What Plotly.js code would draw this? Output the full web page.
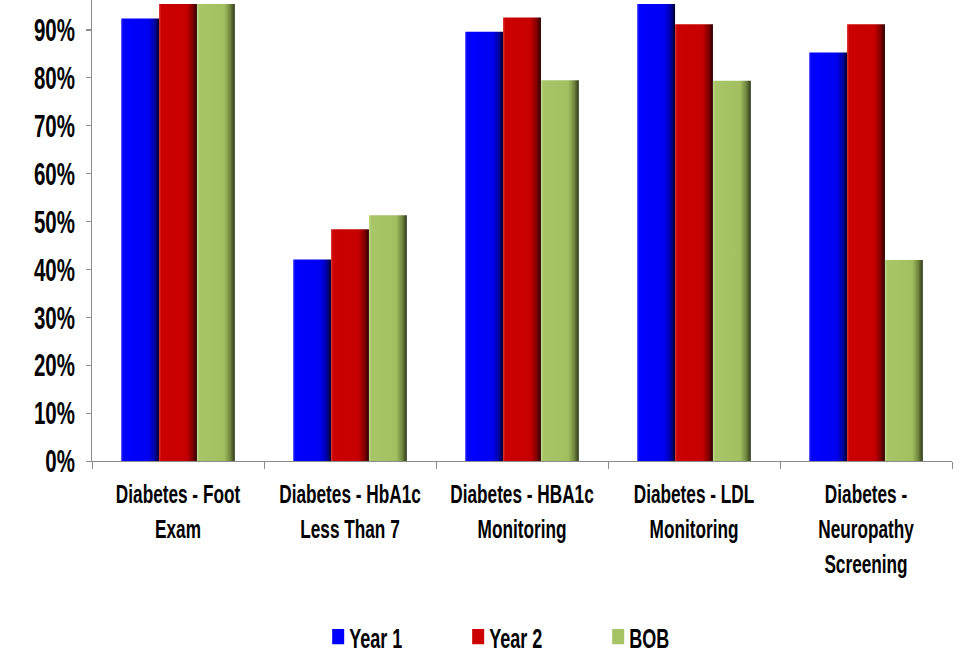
<!DOCTYPE html>
<html>
<head>
<meta charset="utf-8">
<script src="https://cdn.plot.ly/plotly-3.0.1.min.js"></script>
<style>
  html, body { margin: 0; padding: 0; background: #ffffff; overflow: hidden; }
  #wrap { width: 961px; height: 653px; overflow: hidden; }
  /* the chart is laid out at a shorter height and stretched vertically */
  #chart { width: 961px; height: 514px; transform: scaleY(1.2704); transform-origin: 0 0; }
</style>
</head>
<body>
<div id="wrap"><div id="chart"></div></div>
<script>
// Diabetes quality measures, share of patients meeting each measure (%)
const categories = [
  "Diabetes - Foot<br>Exam",
  "Diabetes - HbA1c<br>Less Than 7",
  "Diabetes - HBA1c<br>Monitoring",
  "Diabetes - LDL<br>Monitoring",
  "Diabetes -<br>Neuropathy<br>Screening"
];
const year1 = [92.4, 42.1, 89.6, 95.4, 85.3];
const year2 = [95.4, 48.4, 92.6, 91.2, 91.2];
const bob   = [95.4, 51.3, 79.5, 79.4, 42.0];

const yTickValues = [0, 10, 20, 30, 40, 50, 60, 70, 80, 90];
const yTickLabels = yTickValues.map(v => v + "%");

const seriesNames  = ["Year 1", "Year 2", "BOB"];
const seriesValues = [year1, year2, bob];
const seriesColors = ["#0000ff", "#cc0000", "#a6c465"];

const font = '"Liberation Sans", Arial, sans-serif';
// narrow the bold face horizontally so it reads like a condensed type
const NARROW = 0.82;

const traces = seriesValues.map((vals, i) => ({
  type: "bar",
  name: seriesNames[i],
  x: categories,
  y: vals,
  marker: { color: seriesColors[i], line: { width: 0 } },
  hoverinfo: "skip"
}));

const layout = {
  width: 961,
  height: 514,
  margin: { l: 92, r: 9, t: 0, b: 151 },
  paper_bgcolor: "#ffffff",
  plot_bgcolor: "#ffffff",
  barmode: "group",
  bargap: 0.339,
  bargroupgap: 0,
  font: { family: font, color: "#000000", weight: "bold" },
  xaxis: {
    showline: true,
    linecolor: "#8c8c8c",
    linewidth: 1,
    ticks: "outside",
    tickson: "boundaries",
    ticklen: 5,
    tickcolor: "#8c8c8c",
    showgrid: false,
    tickangle: 0,
    automargin: false,
    ticklabelstandoff: 7,
    tickfont: { family: font, size: 21, color: "#000000", weight: "bold" },
    fixedrange: true
  },
  yaxis: {
    range: [0, 96.24],
    tickmode: "array",
    tickvals: yTickValues,
    ticktext: yTickLabels,
    showline: true,
    linecolor: "#8c8c8c",
    linewidth: 1,
    ticks: "outside",
    ticklen: 5,
    tickcolor: "#8c8c8c",
    showgrid: false,
    zeroline: false,
    automargin: false,
    ticklabelstandoff: 6,
    tickfont: { family: font, size: 25, color: "#000000", weight: "bold" },
    fixedrange: true
  },
  showlegend: true,
  legend: {
    orientation: "h",
    xref: "paper",
    x: 0.263,
    xanchor: "left",
    yref: "container",
    y: 0.0245,
    yanchor: "middle",
    entrywidth: 95,
    entrywidthmode: "pixels",
    itemwidth: 30,
    font: { family: font, size: 22, color: "#000000", weight: "bold" },
    bgcolor: "rgba(0,0,0,0)"
  }
};

// horizontal shading giving each bar a rounded, bevelled look
const shades = [
  [["0", "#3a3aff"], ["0.06", "#0000ff"], ["0.72", "#0000f2"], ["0.88", "#0000a8"], ["1", "#00002a"]],
  [["0", "#d83030"], ["0.06", "#cc0000"], ["0.72", "#c60000"], ["0.88", "#860000"], ["1", "#2a0000"]],
  [["0", "#c2d98e"], ["0.06", "#a8c668"], ["0.72", "#a2c060"], ["0.88", "#6f853e"], ["1", "#2e3818"]]
];

function applyShading(gd) {
  const svg = gd.querySelector(".main-svg");
  const ns = "http://www.w3.org/2000/svg";
  const defs = document.createElementNS(ns, "defs");
  shades.forEach((stops, i) => {
    const g = document.createElementNS(ns, "linearGradient");
    g.setAttribute("id", "barShade" + i);
    g.setAttribute("x1", "0"); g.setAttribute("x2", "1");
    g.setAttribute("y1", "0"); g.setAttribute("y2", "0");
    stops.forEach(([off, col]) => {
      const s = document.createElementNS(ns, "stop");
      s.setAttribute("offset", off);
      s.setAttribute("stop-color", col);
      g.appendChild(s);
    });
    defs.appendChild(g);
  });
  svg.insertBefore(defs, svg.firstChild);
  gd.querySelectorAll(".barlayer .trace.bars").forEach((tr, i) => {
    tr.querySelectorAll("path").forEach(p => { p.style.fill = "url(#barShade" + i + ")"; });
  });
  return gd;
}

function narrowText(gd) {
  gd.querySelectorAll(".xtick text, .ytick text, .legendtext").forEach(t => {
    const x = parseFloat(t.getAttribute("x")) || 0;
    // legend labels sit snug against their swatches
    const shift = t.classList.contains("legendtext") ? -9 : 0;
    const prev = t.getAttribute("transform") || "";
    t.setAttribute("transform",
      prev + " translate(" + (x + shift) + ",0) scale(" + NARROW + ",1) translate(" + (-x) + ",0)");
  });
  return gd;
}

Plotly.newPlot("chart", traces, layout, { staticPlot: true, displayModeBar: false })
  .then(applyShading)
  .then(narrowText);
</script>
</body>
</html>
